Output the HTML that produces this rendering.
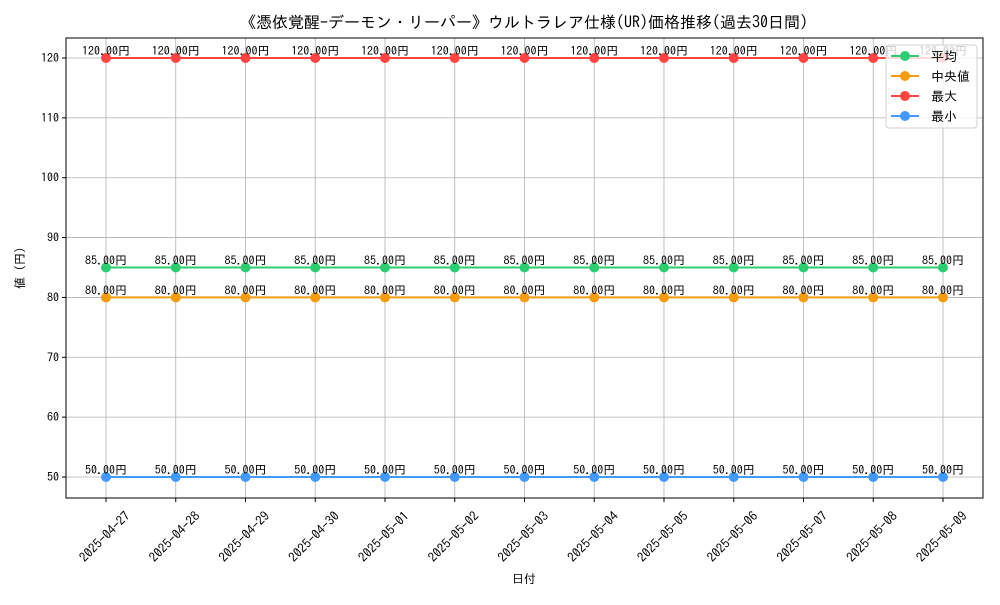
<!DOCTYPE html>
<html><head><meta charset="utf-8"><style>
body{margin:0;background:#fff;}
svg{font-family:"IPAGothic","Liberation Sans","Noto Sans CJK JP",sans-serif;}
</style></head><body>
<svg id="chart" width="1000" height="600" viewBox="0 0 1000 600" xmlns="http://www.w3.org/2000/svg">
<text x="524" y="28" font-size="16" text-anchor="middle">《憑依覚醒-デーモン・リーパー》ウルトラレア仕様(UR)価格推移(過去30日間)</text>
<text x="524" y="583" font-size="12" text-anchor="middle">日付</text>
<text x="24" y="268" font-size="12" text-anchor="middle" transform="rotate(-90 24 268)">値 (円)</text>
<g id="grid"></g><g id="series"></g><g id="axes"></g>
</svg>
<script>
const dates=["2025-04-27","2025-04-28","2025-04-29","2025-04-30","2025-05-01","2025-05-02","2025-05-03","2025-05-04","2025-05-05","2025-05-06","2025-05-07","2025-05-08","2025-05-09"];
const avgVals=[85,85,85,85,85,85,85,85,85,85,85,85,85];
const medVals=[80,80,80,80,80,80,80,80,80,80,80,80,80];
const maxVals=[120,120,120,120,120,120,120,120,120,120,120,120,120];
const minVals=[50,50,50,50,50,50,50,50,50,50,50,50,50];
const yTicks=[50,60,70,80,90,100,110,120];
const seriesNames=["平均","中央値","最大","最小"];
const NS="http://www.w3.org/2000/svg";
const L=66,R=983,T=38,B=498;
const x=i=>106+i*(943-106)/(dates.length-1);
const y=v=>477-(v-50)*(477-58)/70;
function mk(tag,attrs,parent){const e=document.createElementNS(NS,tag);for(const k in attrs)e.setAttribute(k,attrs[k]);parent.appendChild(e);return e;}
const grid=document.getElementById('grid'),ser=document.getElementById('series'),ax=document.getElementById('axes');
dates.forEach((d,i)=>{
 const g=mk('line',{x1:x(i),x2:x(i),y1:T,y2:B,stroke:'#b0b0b0','stroke-width':0.8},grid);
 
 
 const t=mk('line',{x1:x(i),x2:x(i),y1:B,y2:B+4,stroke:'#000'},ax);
 
 
 const cx=x(i)-1,cy=B+39;
 const lb=mk('text',{x:cx,y:cy+4,'font-size':13,'text-anchor':'middle',transform:`rotate(-45 ${cx} ${cy})`},ax);
 lb.textContent=d;
 
 
});
yTicks.forEach(v=>{
 const g=mk('line',{x1:L,x2:R,y1:y(v),y2:y(v),stroke:'#b0b0b0','stroke-width':0.8},grid);
 
 
 const t=mk('line',{x1:L-4,x2:L,y1:y(v),y2:y(v),stroke:'#000'},ax);
 
 
 const lb=mk('text',{x:L-7,y:y(v)+4,'font-size':12,'text-anchor':'end'},ax);
 lb.textContent=v;
 
 
});
const fr=mk('rect',{x:L,y:T,width:R-L,height:B-T,fill:'none',stroke:'#000','stroke-width':1},ax);


const all=[[avgVals,'#2ecc71'],[medVals,'#f39c12'],[maxVals,'#ff4444'],[minVals,'#4499ff']];
all.forEach(([vals,c],si)=>{
 const g=mk('g',{},ser);
 
 
 const p=mk('polyline',{points:vals.map((v,i)=>x(i)+','+y(v)).join(' '),fill:'none',stroke:c,'stroke-width':2},g);
 
 
 vals.forEach((v,i)=>{
  const m=mk('circle',{cx:x(i),cy:y(v),r:5,fill:c},g);
  
  
  const t=mk('text',{x:x(i),y:y(v)-3,'font-size':12,'text-anchor':'middle'},g);
  t.textContent=v.toFixed(2)+'円';
  
  
 });
});
const lg=mk('g',{},ser);


mk('rect',{x:886,y:45,width:91,height:83,rx:3,fill:'#fff','fill-opacity':0.8,stroke:'#d0d0d0'},lg);
all.forEach(([v,c],i)=>{
 const e=mk('g',{},lg);
 
 
 const yy=56+i*20;
 mk('line',{x1:891,x2:919,y1:yy,y2:yy,stroke:c,'stroke-width':2},e);
 mk('circle',{cx:905,cy:yy,r:5,fill:c},e);
 const t=mk('text',{x:931,y:yy+5,'font-size':13},e);
 t.textContent=(i==1?' ':'')+seriesNames[i];
});
</script>
</body></html>
